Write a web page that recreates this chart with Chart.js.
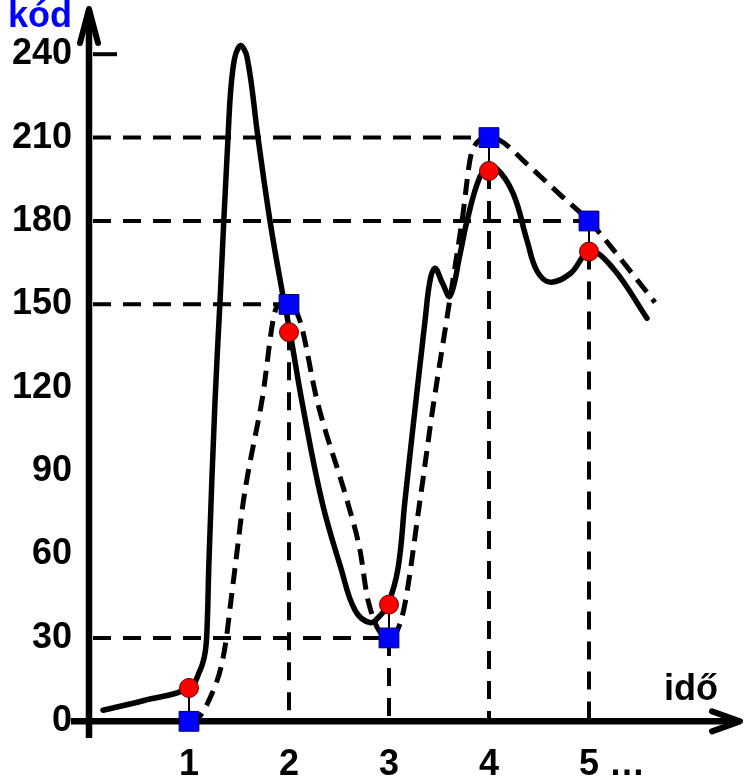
<!DOCTYPE html>
<html lang="hu">
<head>
<meta charset="UTF-8">
<title>Mintavételezés és kvantálás</title>
<script src="https://cdn.jsdelivr.net/npm/chart.js"></script>
<style>
  html, body { margin: 0; padding: 0; background: #fff; }
  #wrap { width: 744px; height: 781px; }
</style>
</head>
<body>
<div id="wrap"><canvas id="chart"></canvas></div>
<script>
// sampling moments, sampled values (red) and quantized codes (blue)
var sampleTimes  = [1, 2, 3, 4, 5];
var sampleValues = [12, 140, 42, 198, 169];
var quantValues  = [0, 150, 30, 210, 180];

var yTicks = [0, 30, 60, 90, 120, 150, 180, 210, 240];
var xTickLabels = ['1', '2', '3', '4', '5 …'];
var topMark = 240;

// analog signal (solid curve)
var signalX = [0.14, 0.55, 1.0, 1.11, 1.16, 1.18, 1.20, 1.26, 1.31, 1.39, 1.44, 1.51, 1.58, 1.69, 1.81, 1.93, 2.01, 2.13, 2.33, 2.52, 2.66, 2.81, 2.91, 2.99, 3.09, 3.16, 3.27, 3.33, 3.36, 3.41, 3.46, 3.53, 3.61, 3.71, 3.78, 3.91, 3.99, 4.07, 4.24, 4.38, 4.48, 4.61, 4.81, 5.01, 5.24, 5.58];
var signalY = [4, 7.5, 12, 18.3, 24.5, 33, 58, 115, 151, 210, 235, 243, 239, 210, 180, 155, 140, 115, 79, 55, 40, 35.5, 38, 42, 55, 79.5, 115.5, 134.5, 144, 158.5, 163, 158, 153, 168, 180, 196, 198, 199, 190, 173, 162, 158, 161, 169, 163, 145];

// curve through the quantized codes (dashed)
var reconX = [1.0, 1.10, 1.23, 1.32, 1.37, 1.42, 1.47, 1.545, 1.73, 1.88, 2.0, 2.11, 2.28, 2.58, 2.71, 2.79, 3.0, 3.14, 3.31, 3.44, 3.54, 3.73, 3.83, 4.0, 4.11, 4.38, 4.71, 5.0, 5.11, 5.66];
var reconY = [0, 1.5, 10, 19.4, 29, 43.5, 58, 79.5, 115.5, 149, 150, 144, 115.5, 79.5, 61.5, 43.5, 30, 39, 79.5, 113, 136, 180, 205, 210, 209, 200.5, 189.5, 180, 175.5, 150.7];

function pts(xs, ys) {
    return xs.map(function (x, i) { return { x: x, y: ys[i] }; });
}

var datasets = [];

// markers
datasets.push({
    data: pts(sampleTimes, quantValues), showLine: false, order: 0,
    pointStyle: 'rect', pointRadius: 14, pointBackgroundColor: '#0000ff',
    pointBorderColor: '#00005a', pointBorderWidth: 1
});
datasets.push({
    data: pts(sampleTimes, sampleValues), showLine: false, order: 1,
    pointStyle: 'circle', pointRadius: 9.5, pointBackgroundColor: '#ff0000',
    pointBorderColor: '#5a0000', pointBorderWidth: 1
});

// thin connectors between sample and code
sampleTimes.forEach(function (t, i) {
    datasets.push({
        data: [{ x: t, y: sampleValues[i] }, { x: t, y: quantValues[i] }],
        borderColor: '#000', borderWidth: 2, pointRadius: 0, order: 2
    });
});

datasets.push({
    data: pts(signalX, signalY), borderColor: '#000', borderWidth: 5.5,
    tension: 0.4, pointRadius: 0,
    borderCapStyle: 'round', borderJoinStyle: 'round', order: 3
});
datasets.push({
    data: pts(reconX, reconY), borderColor: '#000', borderWidth: 5,
    borderDash: [16, 9], cubicInterpolationMode: 'monotone', pointRadius: 0, order: 4
});

// dashed guides
sampleTimes.forEach(function (t, i) {
    var q = quantValues[i];
    if (q > 0) {
        datasets.push({
            data: [{ x: 0.04, y: q }, { x: t, y: q }],
            borderColor: '#000', borderWidth: 4, borderDash: [18, 12], pointRadius: 0, order: 5
        });
    }
    var low = Math.min(q, sampleValues[i]);
    if (low > 0) {
        datasets.push({
            data: [{ x: t, y: low }, { x: t, y: 0 }],
            borderColor: '#000', borderWidth: 4, borderDash: [18, 12], pointRadius: 0, order: 5
        });
    }
});
datasets.push({
    data: [{ x: 0.04, y: topMark }, { x: 0.28, y: topMark }],
    borderColor: '#000', borderWidth: 4, pointRadius: 0, order: 5
});

var axesPlugin = {
    id: 'axes',
    beforeDatasetsDraw: function (chart) {
        var ctx = chart.ctx, xs = chart.scales.x, ys = chart.scales.y;
        var x0 = xs.getPixelForValue(0), y0 = ys.getPixelForValue(0);
        ctx.save();
        ctx.strokeStyle = '#000';
        ctx.lineWidth = 6.5;
        ctx.beginPath();
        ctx.moveTo(x0, ys.getPixelForValue(ys.min));
        ctx.lineTo(x0, ys.top + 6);
        ctx.moveTo(xs.getPixelForValue(xs.min + 0.04), y0);
        ctx.lineTo(xs.right - 6, y0);
        ctx.stroke();
        // arrow heads
        ctx.lineWidth = 6;
        ctx.lineCap = 'round';
        ctx.lineJoin = 'round';
        ctx.beginPath();
        ctx.moveTo(x0 - 9, ys.top + 38);
        ctx.lineTo(x0, ys.top + 4);
        ctx.lineTo(x0 + 9, ys.top + 38);
        ctx.moveTo(xs.right - 32, y0 - 10);
        ctx.lineTo(xs.right - 4, y0);
        ctx.lineTo(xs.right - 32, y0 + 10);
        ctx.stroke();
        ctx.restore();
    },
    afterDraw: function (chart) {
        var ctx = chart.ctx, xs = chart.scales.x, ys = chart.scales.y;
        ctx.save();
        ctx.font = 'bold 36px "Liberation Sans", Arial, sans-serif';
        ctx.fillStyle = '#000';
        ctx.textAlign = 'right';
        ctx.textBaseline = 'middle';
        yTicks.forEach(function (v) {
            ctx.fillText(String(v), xs.getPixelForValue(0) - 17, ys.getPixelForValue(v));
        });
        ctx.textAlign = 'left';
        ctx.textBaseline = 'alphabetic';
        xTickLabels.forEach(function (lab, i) {
            var w = ctx.measureText(lab.charAt(0)).width;
            ctx.fillText(lab, xs.getPixelForValue(sampleTimes[i]) - w / 2, ys.bottom + 37);
        });
        ctx.textAlign = 'right';
        ctx.fillText('idő', xs.right - 26, ys.getPixelForValue(0) - 21);
        ctx.textAlign = 'left';
        ctx.fillStyle = '#0000ff';
        ctx.fillText('kód', 8, 27);
        ctx.restore();
    }
};

new Chart(document.getElementById('chart'), {
    type: 'line',
    data: { datasets: datasets },
    options: {
        responsive: true,
        maintainAspectRatio: false,
        animation: false,
        layout: { autoPadding: false, padding: { left: 67, top: 5, right: 0, bottom: 43 } },
        plugins: { legend: { display: false }, tooltip: { enabled: false } },
        scales: {
            x: { type: 'linear', display: false, min: -0.22, max: 6.55 },
            y: { display: false, min: -6, max: 257.7 }
        }
    },
    plugins: [axesPlugin]
});
</script>
</body>
</html>
